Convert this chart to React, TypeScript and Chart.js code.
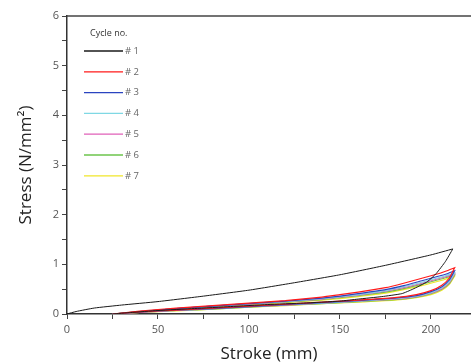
import React, { useEffect, useRef } from "react";
import { Chart, registerables } from "chart.js";

Chart.register(...registerables);

const cycleLabels = ["# 1", "# 2", "# 3", "# 4", "# 5", "# 6", "# 7"];
const cycleColors = ["#1a1a1a", "#ff1a1a", "#2a44c0", "#7fd8e4", "#e060b8", "#6cc44c", "#f0e62a"];

const xTickLabels = [0, 50, 100, 150, 200];
const yTickLabels = [0, 1, 2, 3, 4, 5, 6];

// Cycle 1
const strokeLoad1 = [0, 5, 15, 30, 50, 75, 100, 125, 150, 175, 200, 212];
const stressLoad1 = [0, 0.05, 0.12, 0.18, 0.25, 0.36, 0.48, 0.63, 0.79, 0.98, 1.19, 1.31];
const strokeUnload1 = [212, 208, 203, 198, 190, 184, 173, 160, 150, 130, 110, 90, 70, 50, 35, 25];
const stressUnload1 = [1.31, 1.06, 0.82, 0.65, 0.5, 0.41, 0.35, 0.3, 0.26, 0.22, 0.19, 0.15, 0.11, 0.07, 0.03, 0];

// Cycles 2-7 share stroke positions
const strokeLoad = [25, 40, 60, 80, 100, 120, 140, 150, 160, 175, 185, 195, 203, 208, 213];
const strokeUnload = [213, 210, 206, 200, 192, 180, 160, 140, 120, 100, 80, 60, 40, 25];

const stressLoad2 = [0, 0.06, 0.12, 0.17, 0.22, 0.27, 0.34, 0.39, 0.44, 0.53, 0.62, 0.72, 0.8, 0.86, 0.93];
const stressLoad3 = [0, 0.05, 0.11, 0.16, 0.21, 0.26, 0.32, 0.36, 0.41, 0.49, 0.57, 0.67, 0.75, 0.8, 0.87];
const stressLoad4 = [0, 0.05, 0.11, 0.16, 0.21, 0.25, 0.31, 0.35, 0.39, 0.47, 0.55, 0.64, 0.72, 0.77, 0.83];
const stressLoad5 = [0, 0.05, 0.11, 0.16, 0.2, 0.25, 0.3, 0.34, 0.38, 0.46, 0.53, 0.62, 0.7, 0.75, 0.81];
const stressLoad6 = [0, 0.05, 0.1, 0.15, 0.2, 0.24, 0.29, 0.33, 0.37, 0.44, 0.51, 0.6, 0.68, 0.73, 0.79];
const stressLoad7 = [0, 0.05, 0.1, 0.15, 0.19, 0.23, 0.28, 0.31, 0.35, 0.42, 0.49, 0.57, 0.65, 0.7, 0.76];

const stressUnload2 = [0.93, 0.72, 0.58, 0.47, 0.39, 0.33, 0.28, 0.24, 0.2, 0.16, 0.12, 0.08, 0.04, 0];
const stressUnload3 = [0.87, 0.68, 0.55, 0.45, 0.37, 0.32, 0.27, 0.23, 0.19, 0.15, 0.11, 0.08, 0.04, 0];
const stressUnload4 = [0.83, 0.65, 0.53, 0.43, 0.36, 0.31, 0.26, 0.22, 0.19, 0.15, 0.11, 0.07, 0.04, 0];
const stressUnload5 = [0.81, 0.63, 0.51, 0.42, 0.35, 0.3, 0.26, 0.22, 0.18, 0.15, 0.11, 0.07, 0.03, 0];
const stressUnload6 = [0.79, 0.61, 0.5, 0.41, 0.34, 0.29, 0.25, 0.21, 0.18, 0.14, 0.1, 0.07, 0.03, 0];
const stressUnload7 = [0.76, 0.59, 0.48, 0.39, 0.33, 0.28, 0.24, 0.21, 0.17, 0.14, 0.1, 0.06, 0.03, 0];

const loops: [number[], number[], number[], number[]][] = [
  [strokeLoad1, stressLoad1, strokeUnload1, stressUnload1],
  [strokeLoad, stressLoad2, strokeUnload, stressUnload2],
  [strokeLoad, stressLoad3, strokeUnload, stressUnload3],
  [strokeLoad, stressLoad4, strokeUnload, stressUnload4],
  [strokeLoad, stressLoad5, strokeUnload, stressUnload5],
  [strokeLoad, stressLoad6, strokeUnload, stressUnload6],
  [strokeLoad, stressLoad7, strokeUnload, stressUnload7],
];

const FONT = "'Open Sans', 'Noto Sans', sans-serif";

const legendPlugin = {
  id: "cycleLegend",
  afterDraw(chart: any) {
    const ctx = chart.ctx;
    const { left, top } = chart.chartArea;
    ctx.save();
    ctx.font = `9px ${FONT}`;
    ctx.fillStyle = "#333";
    ctx.textBaseline = "middle";
    ctx.textAlign = "left";
    ctx.fillText("Cycle no.", left + 23, top + 17);
    chart.data.datasets.forEach((ds: any, i: number) => {
      const y = top + 35 + i * 20.8;
      ctx.strokeStyle = ds.borderColor;
      ctx.lineWidth = 1.3;
      ctx.beginPath();
      ctx.moveTo(left + 17, y);
      ctx.lineTo(left + 56, y);
      ctx.stroke();
      ctx.font = `9.5px ${FONT}`;
      ctx.fillStyle = "#666";
      ctx.fillText(ds.label, left + 58, y);
    });
    // top frame line
    ctx.strokeStyle = "#444";
    ctx.lineWidth = 1.5;
    ctx.beginPath();
    ctx.moveTo(left, top);
    ctx.lineTo(chart.chartArea.right, top);
    ctx.stroke();
    ctx.restore();
  },
};

export default function App() {
  const ref = useRef<HTMLCanvasElement>(null);
  useEffect(() => {
    if (!ref.current) return;
    const datasets = loops.map((l, i) => {
      const pts: { x: number; y: number }[] = [];
      l[0].forEach((x, k) => pts.push({ x, y: l[1][k] }));
      l[2].forEach((x, k) => pts.push({ x, y: l[3][k] }));
      return {
        label: cycleLabels[i],
        data: pts,
        borderColor: cycleColors[i],
        backgroundColor: cycleColors[i],
        borderWidth: i === 0 ? 1 : 1.2,
        pointRadius: 0,
        tension: 0.15,
        fill: false,
      };
    });
    const chart = new Chart(ref.current, {
      type: "line",
      data: { datasets },
      plugins: [legendPlugin],
      options: {
        responsive: false,
        animation: false,
        layout: { padding: { top: 16, right: 0, left: 0, bottom: 0 } },
        plugins: { legend: { display: false }, tooltip: { enabled: false } },
        scales: {
          x: {
            type: "linear",
            min: 0,
            max: 222,
            afterFit: (s: any) => {
              s.height = 50;
            },
            ticks: {
              stepSize: 25,
              includeBounds: false,
              autoSkip: false,
              maxRotation: 0,
              padding: 4,
              color: "#555",
              font: { family: FONT, size: 11 },
              callback: (v: any) => (xTickLabels.includes(v) ? String(v) : ""),
            },
            grid: { drawOnChartArea: false, tickLength: 5, tickColor: "#444", tickWidth: 1 },
            border: { color: "#333", width: 1.5 },
            title: {
              display: true,
              text: "Stroke (mm)",
              color: "#222",
              font: { family: FONT, size: 17 },
              padding: { top: 0, bottom: 0 },
            },
          },
          y: {
            type: "linear",
            min: 0,
            max: 6,
            afterFit: (s: any) => {
              s.width = 67;
            },
            ticks: {
              stepSize: 0.5,
              autoSkip: false,
              padding: 3,
              color: "#555",
              font: { family: FONT, size: 11 },
              callback: (v: any) => (yTickLabels.includes(v) ? String(v) : ""),
            },
            grid: { drawOnChartArea: false, tickLength: 5, tickColor: "#444", tickWidth: 1 },
            border: { color: "#333", width: 1.5 },
            title: {
              display: true,
              text: "Stress (N/mm²)",
              color: "#222",
              font: { family: FONT, size: 17 },
              padding: { top: 16, bottom: 0 },
            },
          },
        },
      },
    });
    return () => chart.destroy();
  }, []);
  return (
    <div style={{ position: "fixed", left: 0, top: 0, width: 471, height: 364, background: "#fff" }}>
      <canvas ref={ref} width={471} height={364} style={{ display: "block" }} />
    </div>
  );
}
